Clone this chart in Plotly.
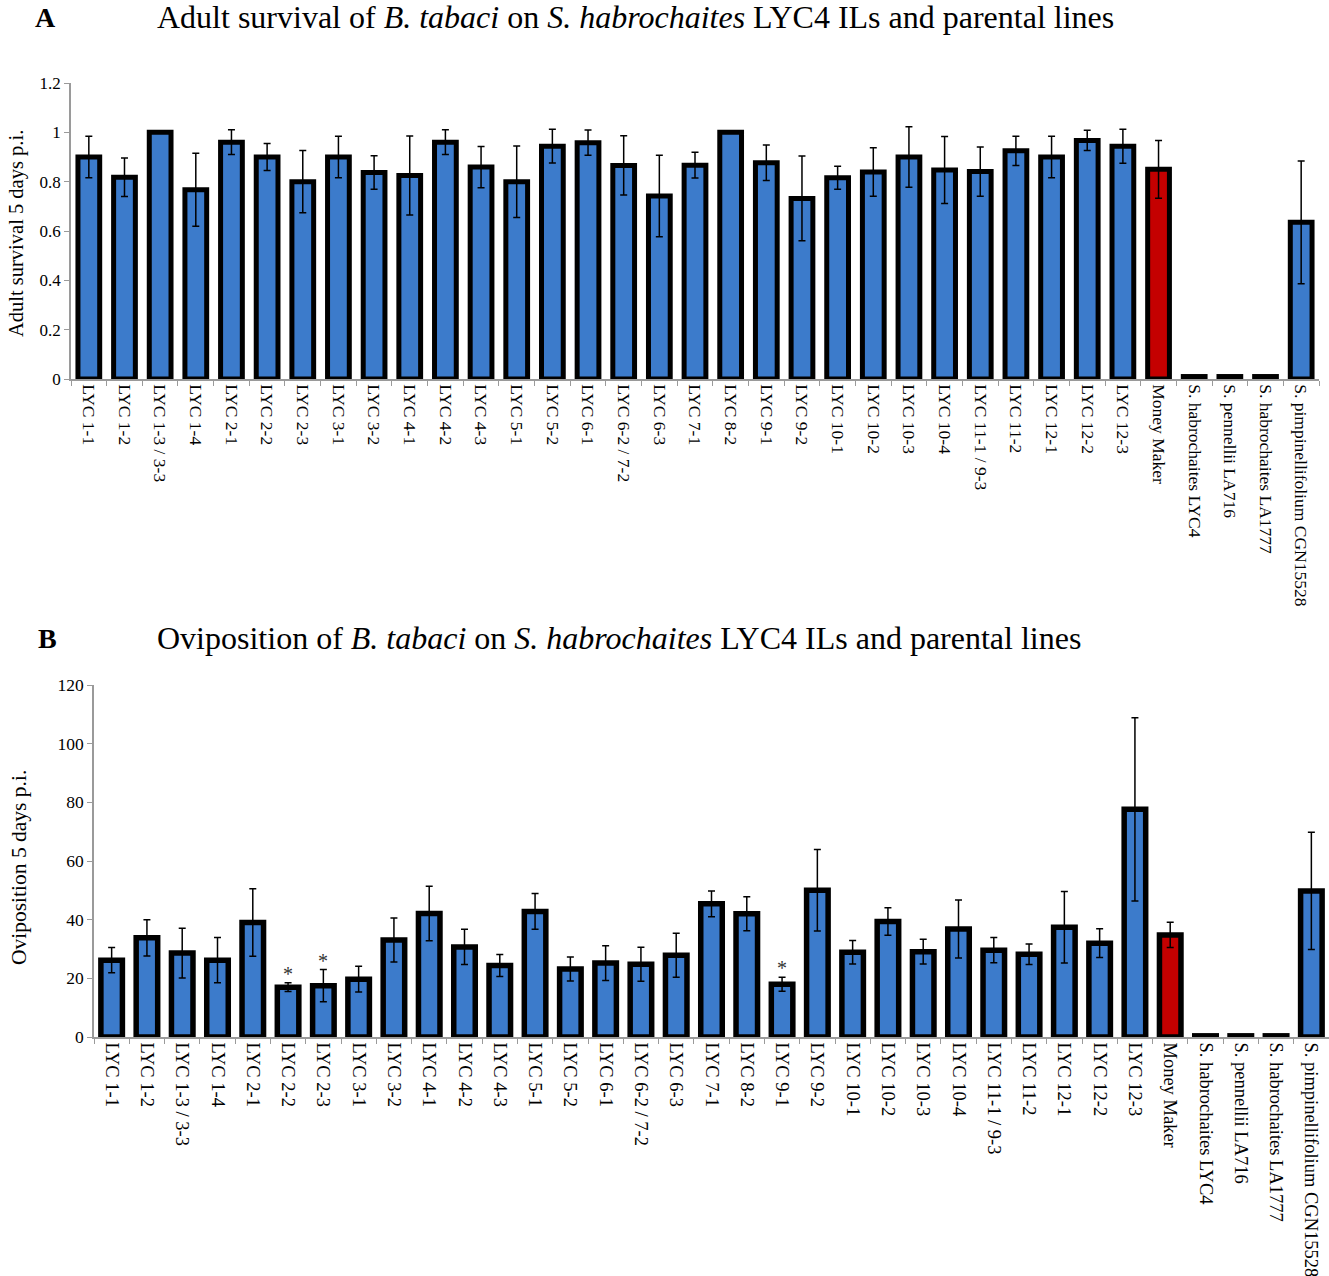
import plotly.graph_objects as go

W, H = 1329, 1276

categories = ["LYC 1-1", "LYC 1-2", "LYC 1-3 / 3-3", "LYC 1-4", "LYC 2-1", "LYC 2-2", "LYC 2-3",
              "LYC 3-1", "LYC 3-2", "LYC 4-1", "LYC 4-2", "LYC 4-3", "LYC 5-1", "LYC 5-2",
              "LYC 6-1", "LYC 6-2 / 7-2", "LYC 6-3", "LYC 7-1", "LYC 8-2", "LYC 9-1", "LYC 9-2",
              "LYC 10-1", "LYC 10-2", "LYC 10-3", "LYC 10-4", "LYC 11-1 / 9-3", "LYC 11-2",
              "LYC 12-1", "LYC 12-2", "LYC 12-3", "Money Maker", "S. habrochaites LYC4",
              "S. pennellii LA716", "S. habrochaites LA1777", "S. pimpinellifolium CGN15528"]

survival = [0.90, 0.818, 1.0, 0.767, 0.96, 0.90, 0.80, 0.90, 0.837, 0.825, 0.96, 0.859, 0.80,
            0.944, 0.958, 0.866, 0.742, 0.867, 1.0, 0.877, 0.732, 0.816, 0.839, 0.90, 0.847,
            0.841, 0.925, 0.90, 0.967, 0.944, 0.850, 0.01, 0.01, 0.01, 0.635]
survival_err = [0.084, 0.078, 0.0, 0.148, 0.05, 0.055, 0.126, 0.084, 0.068, 0.16, 0.05, 0.084,
                0.145, 0.068, 0.051, 0.12, 0.165, 0.052, 0.0, 0.072, 0.172, 0.047, 0.098, 0.123,
                0.136, 0.10, 0.059, 0.084, 0.041, 0.069, 0.117, 0.0, 0.0, 0.0, 0.249]

oviposition = [26.2, 33.8, 28.6, 26.2, 39.0, 17.0, 17.5, 19.7, 33.1, 42.1, 30.7, 24.4, 42.8,
               23.2, 25.2, 24.8, 27.9, 45.4, 42.0, 18.0, 50.0, 28.9, 39.4, 29.1, 36.8, 29.6,
               28.2, 37.4, 32.0, 77.6, 34.8, 0.4, 0.4, 0.4, 49.8]
oviposition_err = [4.3, 6.2, 8.5, 7.7, 11.5, 1.5, 5.5, 4.4, 7.5, 9.3, 6.0, 3.75, 6.1, 4.1, 5.9,
                   5.8, 7.5, 4.4, 5.8, 2.4, 13.9, 4.0, 4.7, 4.2, 9.9, 4.3, 3.5, 12.2, 4.9, 31.2,
                   4.3, 0.0, 0.0, 0.0, 20.0]

significant = ["LYC 2-2", "LYC 2-3", "LYC 9-1"]

survival_ticks = [0, 0.2, 0.4, 0.6, 0.8, 1, 1.2]
survival_ticktext = ["0", "0.2", "0.4", "0.6", "0.8", "1", "1.2"]
ovi_ticks = [0, 20, 40, 60, 80, 100, 120]

BLUE = "#3C7BCB"
RED = "#C40000"
FONT = "Liberation Serif"
colors = [RED if c == "Money Maker" else BLUE for c in categories]

fig = go.Figure()
fig.add_trace(go.Bar(
    x=categories, y=survival, xaxis="x", yaxis="y",
    marker=dict(color=colors, line=dict(color="black", width=5)),
    error_y=dict(type="data", array=survival_err, color="black", thickness=1.5, width=3.5),
    showlegend=False))
fig.add_trace(go.Bar(
    x=categories, y=oviposition, xaxis="x2", yaxis="y2",
    marker=dict(color=colors, line=dict(color="black", width=5.5)),
    error_y=dict(type="data", array=oviposition_err, color="black", thickness=1.5, width=3.5),
    showlegend=False))

def px_x(v):
    return v / W

def px_y(v):
    return 1 - v / H

def axis_style(size):
    return dict(showgrid=False, zeroline=False, showline=True, linecolor="#9a9a9a",
                linewidth=1.5, ticks="outside", tickcolor="#9a9a9a", ticklen=5,
                automargin=False,
                tickfont=dict(family=FONT, size=size, color="black"))

fig.update_layout(
    template="none",
    width=W, height=H, margin=dict(l=0, r=0, t=0, b=0, pad=0),
    paper_bgcolor="white", plot_bgcolor="white",
    bargap=0.39,
    xaxis=dict(domain=[px_x(71), px_x(1319)], anchor="y", type="category",
               tickangle=90, tickson="boundaries", **axis_style(17.5)),
    yaxis=dict(domain=[px_y(379), px_y(83)], anchor="x", range=[0, 1.2],
               tickvals=survival_ticks, ticktext=survival_ticktext, **axis_style(17)),
    xaxis2=dict(domain=[px_x(94), px_x(1329)], anchor="y2", type="category",
                tickangle=90, tickson="boundaries", **axis_style(18.5)),
    yaxis2=dict(domain=[px_y(1037), px_y(685)], anchor="x2", range=[0, 120],
                tickvals=ovi_ticks, **axis_style(17.5)),
)

def paper_text(text, x, y, size, angle=0, xanchor="center"):
    return dict(text=text, x=px_x(x), y=px_y(y), xref="paper", yref="paper",
                xanchor=xanchor, yanchor="middle", textangle=angle, showarrow=False,
                font=dict(family=FONT, size=size, color="black"))

annotations = [
    paper_text("<b>A</b>", 45, 17, 28),
    paper_text("Adult survival of <i>B. tabaci</i> on <i>S. habrochaites</i> LYC4 ILs and parental lines",
               155, 17, 32, xanchor="left"),
    paper_text("<b>B</b>", 48, 638, 28),
    paper_text("Oviposition of <i>B. tabaci</i> on <i>S. habrochaites</i> LYC4 ILs and parental lines",
               155, 638, 32, xanchor="left"),
    paper_text("Adult survival 5 days p.i.", 16, 234, 20.5, angle=-90),
    paper_text("Oviposition 5 days p.i.", 19, 868, 21.5, angle=-90),
]
for c in significant:
    i = categories.index(c)
    annotations.append(dict(text="*", x=c, y=oviposition[i] + oviposition_err[i],
                            xref="x2", yref="y2", yanchor="bottom", yshift=-4, showarrow=False,
                            font=dict(family=FONT, size=20, color="#333333")))
fig.update_layout(annotations=annotations)

fig.write_html("out.html", config={"displayModeBar": False},
               post_script="document.body.style.margin='0';document.body.style.overflow='hidden';")
